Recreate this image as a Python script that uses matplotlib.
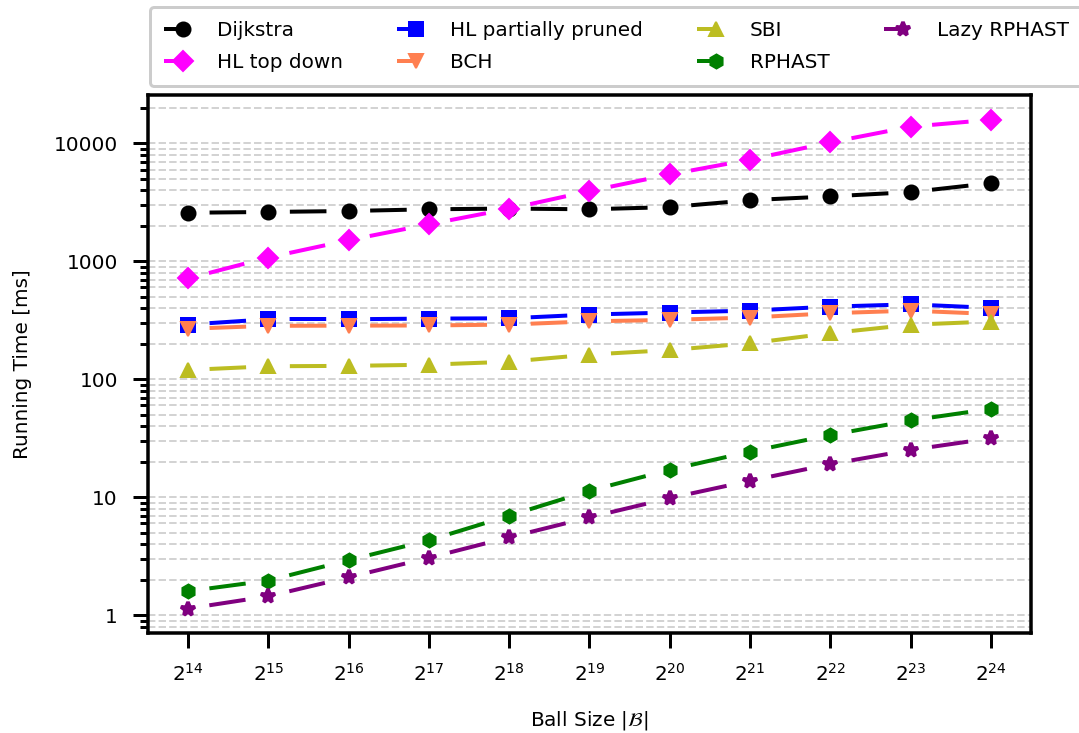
import numpy as np
import matplotlib
matplotlib.use("Agg")
import matplotlib.pyplot as plt
from matplotlib.lines import Line2D
from matplotlib.legend_handler import HandlerLine2D
from matplotlib.ticker import FuncFormatter

# ball sizes as powers of two
exponents = [14, 15, 16, 17, 18, 19, 20, 21, 22, 23, 24]

# running times [ms]
dijkstra = [2580, 2620, 2670, 2760, 2800, 2760, 2880, 3300, 3550, 3860, 4600]
hl_top_down = [716, 1077, 1510, 2060, 2790, 3940, 5450, 7280, 10190, 13830, 15850]
hl_partial = [291, 323, 323, 327, 329, 354, 368, 382, 413, 432, 403]
bch = [268, 284, 285, 286, 291, 310, 319, 334, 363, 382, 358]
sbi = [120, 129, 130, 133, 141, 162, 177, 202, 246, 290, 309]
rphast = [1.60, 1.97, 2.93, 4.32, 6.98, 11.35, 17.1, 24.4, 33.7, 44.8, 56.2]
lazy_rphast = [1.14, 1.45, 2.10, 3.07, 4.58, 6.76, 9.84, 13.8, 19.1, 25.2, 31.6]

series = [
    ("Dijkstra", dijkstra, "black", "o"),
    ("HL top down", hl_top_down, "#ff00ff", "D"),
    ("HL partially pruned", hl_partial, "#0000ff", "s"),
    ("BCH", bch, "#ff7f50", "v"),
    ("SBI", sbi, "#bcbd22", "^"),
    ("RPHAST", rphast, "#008000", "h"),
    ("Lazy RPHAST", lazy_rphast, "#800080", "*"),
]

dash = (14.6, (9.15, 10.85))


# legend handle: short dash on the left, marker on the right
class RightMarker(HandlerLine2D):
    def get_xdata(self, legend, xdescent, ydescent, width, height, fontsize):
        xdata = np.linspace(-xdescent, -xdescent + width, 2)
        return xdata, [-xdescent + 0.72 * width]


plt.rcParams["font.size"] = 10
fig = plt.figure(figsize=(1079 / 144, 733 / 144), dpi=144)
ax = fig.add_axes([0.137, 0.1364, 0.8185, 0.7336])

handles = []
for name, vals, col, mk in series:
    ms, mew = (7.5, 1.8) if mk == "*" else (7, 1)
    # one dashed piece per interval so every gap sits round a marker
    for i in range(len(exponents) - 1):
        ax.plot(exponents[i:i + 2], vals[i:i + 2], color=col, lw=2, linestyle=dash)
    ax.plot(exponents, vals, color=col, marker=mk, markersize=ms, mew=mew,
            linestyle="none")
    handles.append(Line2D([], [], color=col, marker=mk, markersize=ms, mew=mew,
                          lw=2, linestyle=(0, (4.5, 20)), label=name))

ax.set_yscale("log")
ax.yaxis.set_major_formatter(FuncFormatter(lambda v, _: f"{v:g}"))
ax.set_xticks(exponents)
ax.set_xticklabels([f"$2^{{{e}}}$" for e in exponents])

ax.grid(axis="y", which="both", color="lightgray", linestyle="--", lw=1)
ax.set_axisbelow(True)

for s in ax.spines.values():
    s.set_linewidth(1.75)
ax.tick_params(which="major", length=7.5, width=1.5, pad=7.5)
ax.tick_params(which="minor", length=4, width=1.5)
ax.tick_params(axis="x", which="minor", length=0)

ax.set_xlabel(r"Ball Size $|\mathcal{B}|$", labelpad=12)
ax.set_ylabel("Running Time [ms]", labelpad=11)

leg = fig.legend(handles=handles, ncol=4, loc="upper left",
                 bbox_to_anchor=(0.139, 0.99), borderaxespad=0,
                 handlelength=1.9, handletextpad=0.75, columnspacing=2.7,
                 borderpad=0.7, labelspacing=0.65,
                 handler_map={h: RightMarker() for h in handles},
                 framealpha=1, fancybox=True)
leg.get_frame().set_edgecolor("0.8")
leg.get_frame().set_linewidth(1.5)

fig.savefig("out.png", dpi=144)
